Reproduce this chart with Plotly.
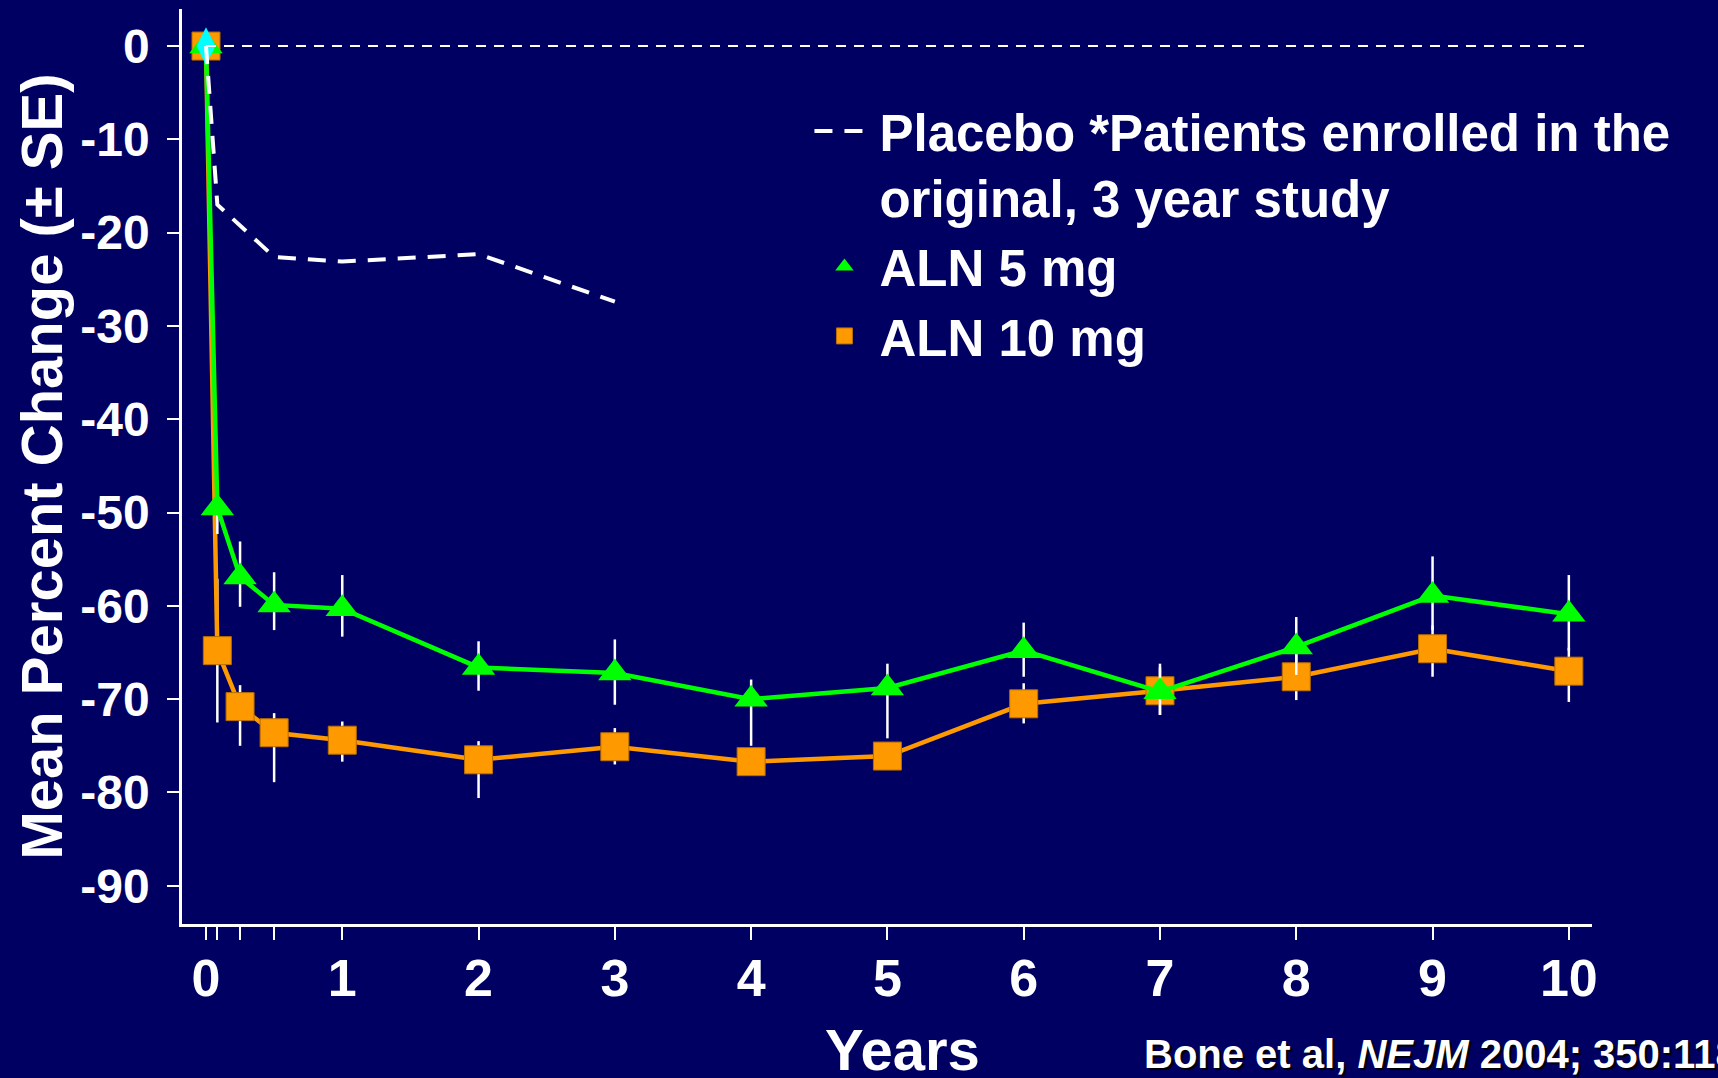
import plotly.graph_objects as go

# time points (years): baseline, 1 mo, 3 mo, 6 mo, then yearly
years = [0, 1/12, 0.25, 0.5, 1, 2, 3, 4, 5, 6, 7, 8, 9, 10]

aln5 = [0, -49.5, -56.9, -59.9, -60.3, -66.6, -67.2, -70.0, -68.8, -64.8, -69.2, -64.4, -58.9, -60.9]
aln5_se_up = [0, 2.8, 3.8, 3.5, 3.6, 2.8, 3.6, 2.1, 2.6, 3.0, 3.0, 3.2, 4.2, 4.2]
aln5_se_dn = [0, 2.8, 3.2, 2.7, 3.0, 2.5, 3.4, 5.0, 5.4, 2.8, 2.5, 3.0, 3.7, 3.9]

aln10 = [0, -64.8, -70.8, -73.6, -74.4, -76.5, -75.1, -76.7, -76.1, -70.5, -69.1, -67.6, -64.6, -67.0]
aln10_se_up = [0, 7.7, 2.3, 2.1, 2.0, 2.0, 2.0, 1.0, 1.0, 2.2, 2.5, 2.5, 2.5, 2.5]
aln10_se_dn = [0, 7.7, 4.2, 5.3, 2.3, 4.1, 1.9, 1.0, 1.0, 2.1, 2.6, 2.5, 3.0, 3.3]

placebo_years = [0, 1/12, 0.5, 1, 2, 3]
placebo = [0, -17.0, -22.6, -23.1, -22.3, -27.4]

x_tickvals = [0, 1/12, 0.25, 0.5, 1, 2, 3, 4, 5, 6, 7, 8, 9, 10]
x_ticktext = ["0", "", "", "", "1", "2", "3", "4", "5", "6", "7", "8", "9", "10"]
y_tickvals = [0, -10, -20, -30, -40, -50, -60, -70, -80, -90]
y_ticktext = ["0", "-10", "-20", "-30", "-40", "-50", "-60", "-70", "-80", "-90"]

BG = "#000063"
FONT = "Liberation Sans, Arial, sans-serif"
GREEN = "#00FF00"
ORANGE = "#FF9900"

fig = go.Figure()

fig.add_trace(go.Scatter(
    x=years, y=aln10, mode="lines+markers", showlegend=False,
    line=dict(color=ORANGE, width=4.5),
    marker=dict(symbol="square", size=28, color=ORANGE,
                line=dict(color="#b86e00", width=1)),
    error_y=dict(type="data", array=aln10_se_up, arrayminus=aln10_se_dn,
                 color="white", thickness=2.5, width=0),
))

fig.add_trace(go.Scatter(
    x=years, y=aln5, mode="lines+markers", showlegend=False,
    line=dict(color=GREEN, width=4.5),
    marker=dict(symbol="triangle-up", size=29, color=GREEN),
    error_y=dict(type="data", array=aln5_se_up, arrayminus=aln5_se_dn,
                 color="white", thickness=2.5, width=0),
))

# shared baseline point
fig.add_trace(go.Scatter(
    x=years[:1], y=aln5[:1], mode="markers", showlegend=False,
    marker=dict(symbol="diamond-tall", size=27, color="#00FFFF"),
))

fig.add_trace(go.Scatter(
    x=placebo_years, y=placebo, mode="lines",
    name="Placebo *Patients enrolled in the<br>original, 3 year study",
    line=dict(color="white", width=4, dash="18px,12px"),
    legendrank=1,
))

# legend-only entries (markers without lines, as on the slide)
fig.add_trace(go.Scatter(
    x=[None], y=[None], mode="markers", name="ALN 5 mg",
    marker=dict(symbol="triangle-up", size=29, color=GREEN),
    legendrank=2,
))
fig.add_trace(go.Scatter(
    x=[None], y=[None], mode="markers", name="ALN 10 mg",
    marker=dict(symbol="square", size=28, color=ORANGE,
                line=dict(color="#b86e00", width=1)),
    legendrank=3,
))

# zero reference line
fig.add_shape(type="line", xref="x", yref="y", x0=0, x1=10.17, y0=0, y1=0,
              line=dict(color="white", width=2, dash="10px,8px"))

fig.add_annotation(text="Mean Percent Change (± SE)", xref="paper", yref="paper",
                   x=-0.1, y=0.5, xanchor="center", yanchor="middle",
                   textangle=-90, showarrow=False,
                   font=dict(size=58, color="white", family=FONT, weight="bold"))
fig.add_annotation(text="Years", xref="paper", yref="paper",
                   x=0.511, y=-0.137, xanchor="center", yanchor="middle",
                   showarrow=False,
                   font=dict(size=58, color="white", family=FONT, weight="bold"))
fig.add_annotation(text="Bone et al, <i>NEJM</i> 2004; 350:1189-99",
                   xref="paper", yref="paper",
                   x=0.681, y=-0.142, xanchor="left", yanchor="middle",
                   showarrow=False,
                   font=dict(size=40, color="white", family=FONT, weight="bold",
                             shadow="2px 2px 1px black"))

fig.update_layout(
    width=1718, height=1078,
    paper_bgcolor=BG, plot_bgcolor=BG,
    margin=dict(l=182, r=126, t=9, b=154),
    font=dict(family=FONT, color="white"),
    legend=dict(x=0.445, y=0.91, xanchor="left", yanchor="top",
                bgcolor="rgba(0,0,0,0)",
                font=dict(size=51, color="white", weight="bold"),
                valign="top", itemwidth=60, tracegroupgap=0,
                traceorder="normal"),
    showlegend=True,
)

fig.update_xaxes(
    range=[-0.176, 10.17], showgrid=False, zeroline=False,
    showline=True, linecolor="white", linewidth=2.5,
    tickvals=x_tickvals, ticktext=x_ticktext,
    ticks="outside", ticklen=13, tickwidth=2, tickcolor="white",
    tickfont=dict(size=52, color="white", family=FONT, weight="bold"),
    ticklabelstandoff=-6,
)
fig.update_yaxes(
    range=[-94.1, 3.97], showgrid=False, zeroline=False,
    showline=True, linecolor="white", linewidth=2.5,
    tickvals=y_tickvals, ticktext=y_ticktext,
    ticks="outside", ticklen=12, tickwidth=2, tickcolor="white",
    tickfont=dict(size=48, color="white", family=FONT, weight="bold"),
    ticklabelstandoff=8,
)

fig.write_html(
    "out.html",
    config={"displayModeBar": False},
    post_script="document.body.style.margin='0';document.body.style.background='#000063';",
)
